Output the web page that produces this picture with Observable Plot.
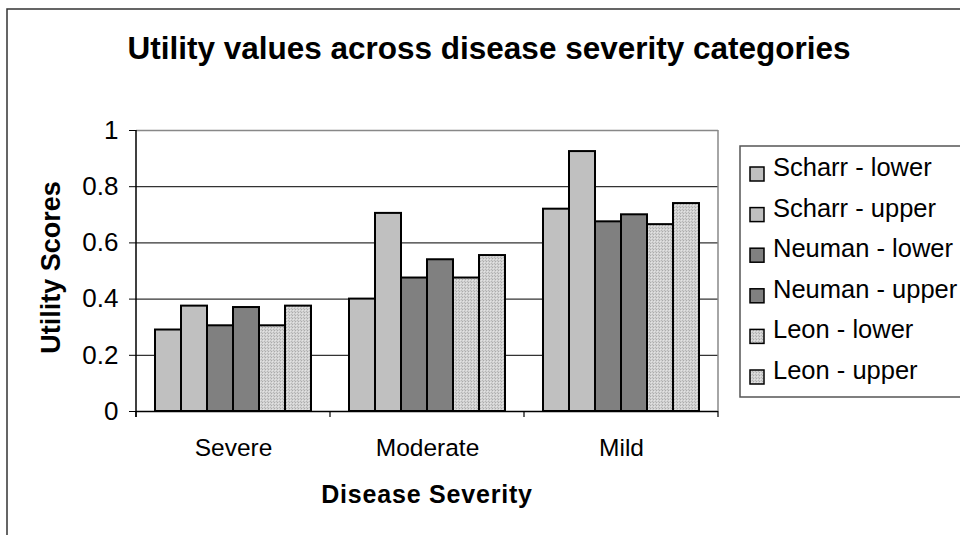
<!DOCTYPE html>
<html>
<head>
<meta charset="utf-8">
<script src="https://cdn.jsdelivr.net/npm/d3@7"></script>
<script src="https://cdn.jsdelivr.net/npm/@observablehq/plot@0.6"></script>
<style>
  html, body { margin: 0; padding: 0; background: #fff; }
  #chart { width: 960px; height: 535px; overflow: hidden; }
</style>
</head>
<body>
<div id="chart"></div>
<script>
const categories = ["Severe", "Moderate", "Mild"];
const series = ["Scharr - lower", "Scharr - upper", "Neuman - lower", "Neuman - upper", "Leon - lower", "Leon - upper"];
const scharrLower = [0.29, 0.40, 0.72];
const scharrUpper = [0.375, 0.705, 0.925];
const neumanLower = [0.305, 0.475, 0.675];
const neumanUpper = [0.37, 0.54, 0.70];
const leonLower = [0.305, 0.475, 0.665];
const leonUpper = [0.375, 0.555, 0.74];
const yTicks = [0, 0.2, 0.4, 0.6, 0.8, 1];
const fills = ["#c0c0c0", "#c0c0c0", "#808080", "#808080", "url(#leonPat)", "url(#leonPat)"];
const titleText = "Utility values across disease severity categories";
const xLabel = "Disease Severity";
const yLabel = "Utility Scores";

const seriesValues = [scharrLower, scharrUpper, neumanLower, neumanUpper, leonLower, leonUpper];
const data = [];
categories.forEach((c, i) => series.forEach((s, j) => data.push({category: c, series: s, value: seriesValues[j][i]})));

const FONT = "'Liberation Sans', Arial, sans-serif";

const plot = Plot.plot({
  width: 960,
  height: 535,
  marginLeft: 135,
  marginRight: 242,
  marginTop: 130,
  marginBottom: 124,
  style: {fontFamily: FONT, fontSize: "24px", color: "#000", background: "#fff", overflow: "visible"},
  fx: {domain: categories, padding: 0, label: null},
  x: {domain: series, paddingInner: 0, paddingOuter: 0.7, axis: null},
  y: {domain: [0, 1], label: null},
  color: {domain: series, range: fills},
  marks: [
    Plot.gridY(yTicks.filter(d => d > 0 && d < 1), {stroke: "#333", strokeOpacity: 1, strokeWidth: 1.2}),
    Plot.ruleY([1], {stroke: "#888", strokeWidth: 1.5}),
    Plot.axisY(yTicks, {tickSize: 7, tickPadding: 11, tickFormat: d => `${+d.toFixed(1)}`, label: null, fontSize: 26, stroke: "#000"}),
    Plot.axisFx({anchor: "bottom", tickSize: 0, tickPadding: 27, label: null, fontSize: 24.5}),
    Plot.barY(data, {fx: "category", x: "series", y: "value", fill: "series", stroke: "#000", strokeWidth: 2}),
    Plot.ruleY([0], {stroke: "#000", strokeWidth: 1.5})
  ]
});

const svg = d3.select(plot);
// fine dotted pattern for Leon series
const defs = svg.insert("defs", ":first-child");
const pat = defs.append("pattern").attr("id", "leonPat").attr("patternUnits", "userSpaceOnUse")
  .attr("width", 3).attr("height", 3);
pat.append("rect").attr("width", 3).attr("height", 3).attr("fill", "#d2d2d2");
pat.append("rect").attr("x", 0).attr("y", 0).attr("width", 1).attr("height", 1).attr("fill", "#ababab");
pat.append("rect").attr("x", 1).attr("y", 1).attr("width", 1).attr("height", 1).attr("fill", "#e4e4e4");
pat.append("rect").attr("x", 2).attr("y", 2).attr("width", 1).attr("height", 1).attr("fill", "#b6b6b6");

const fx = plot.scale("fx");
const y = plot.scale("y");
const y0 = y.apply(0), y1 = y.apply(1);
const left = fx.apply(categories[0]);
const right = fx.apply(categories[categories.length - 1]) + fx.bandwidth;

const deco = svg.append("g").attr("text-anchor", "start");
// right frame border
deco.append("line").attr("x1", right).attr("x2", right).attr("y1", y1).attr("y2", y0)
  .attr("stroke", "#888").attr("stroke-width", 1.5);
// y axis line
deco.append("line").attr("x1", left).attr("x2", left).attr("y1", y1).attr("y2", y0 + 6)
  .attr("stroke", "#000").attr("stroke-width", 1.5);
// x category boundary ticks
const bounds = categories.map(c => fx.apply(c)).concat([right]);
bounds.forEach(b => deco.append("line").attr("x1", b).attr("x2", b).attr("y1", y0).attr("y2", y0 + 6)
  .attr("stroke", "#000").attr("stroke-width", 1.2));

// outer chart border
deco.append("path").attr("d", "M7,535V9H960").attr("fill", "none").attr("stroke", "#333").attr("stroke-width", 1.5);

// title
deco.append("text").attr("x", 489).attr("y", 59).attr("text-anchor", "middle")
  .attr("font-family", FONT).attr("font-weight", "bold").attr("font-size", 31.5).text(titleText);
// axis titles
deco.append("text").attr("x", 427).attr("y", 503).attr("text-anchor", "middle")
  .attr("font-family", FONT).attr("font-weight", "bold").attr("font-size", 25).attr("letter-spacing", 0.8).text(xLabel);
deco.append("text").attr("transform", `translate(60,${(y0 + y1) / 2 - 3}) rotate(-90)`).attr("text-anchor", "middle")
  .attr("font-family", FONT).attr("font-weight", "bold").attr("font-size", 27).text(yLabel);

// legend
const lg = deco.append("g").attr("text-anchor", "start");
lg.append("rect").attr("x", 740).attr("y", 146).attr("width", 240).attr("height", 251)
  .attr("fill", "#fff").attr("stroke", "#555").attr("stroke-width", 1.5);
series.forEach((s, i) => {
  const by = 176 + i * 40.6;
  lg.append("rect").attr("x", 750).attr("y", by - 9).attr("width", 14).attr("height", 14)
    .attr("fill", fills[i]).attr("stroke", "#000").attr("stroke-width", 1.5);
  lg.append("text").attr("x", 773).attr("y", by).attr("text-anchor", "start")
    .attr("font-family", FONT).attr("font-size", 25.5).text(s);
});

document.getElementById("chart").appendChild(plot);
</script>
</body>
</html>
